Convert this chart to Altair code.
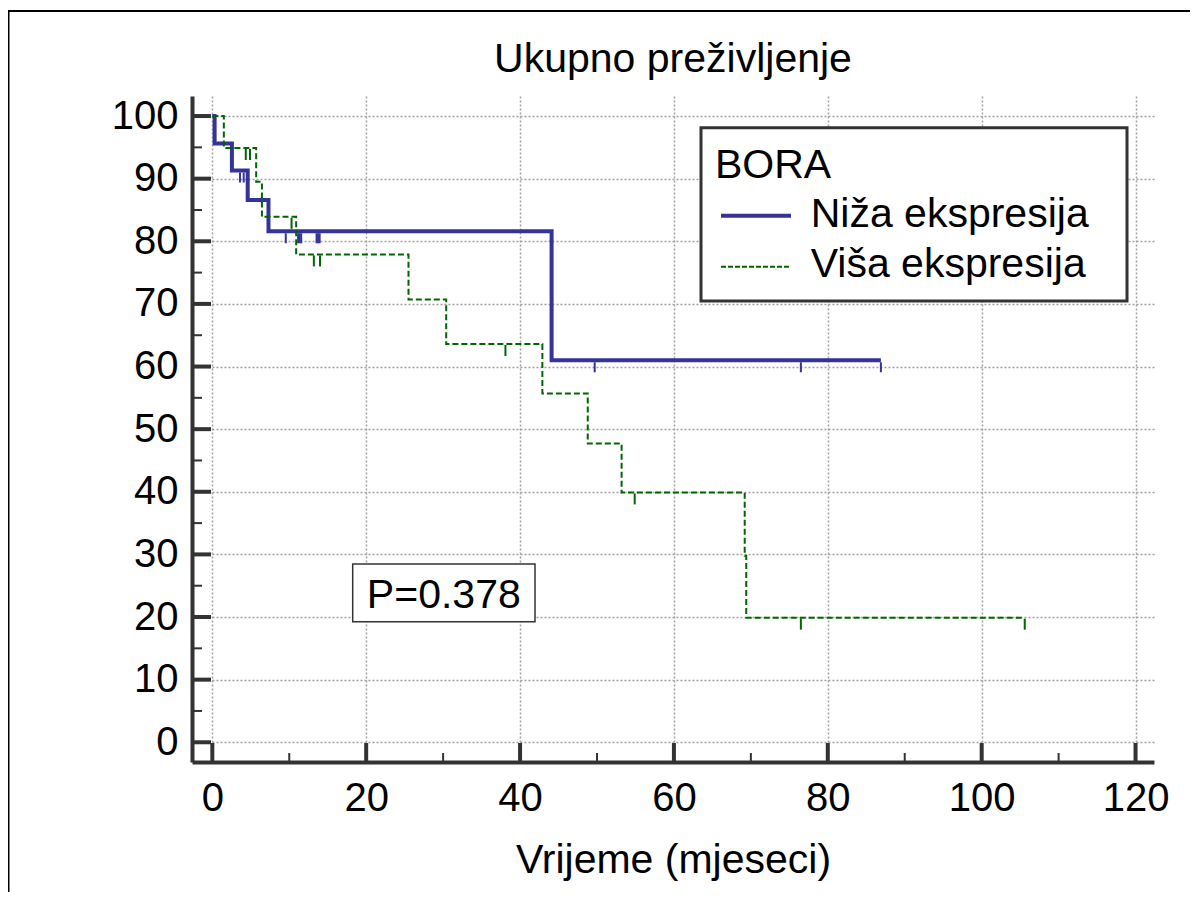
import altair as alt
import pandas as pd

# ---------------- data ----------------
title_text = "Ukupno preživljenje"
x_title = "Vrijeme (mjeseci)"
legend_title = "BORA"
series_names = ["Niža ekspresija", "Viša ekspresija"]
p_text = "P=0.378"

x_ticks = [0, 20, 40, 60, 80, 100, 120]
x_minor = [10, 30, 50, 70, 90, 110]
y_ticks = [0, 10, 20, 30, 40, 50, 60, 70, 80, 90, 100]
y_minor = [5, 15, 25, 35, 45, 55, 65, 75, 85, 95]

# Niža ekspresija (step curve + censored marks)
low_t = [0, 0.3, 2.55, 4.6, 7.3, 44.1, 86.9]
low_s = [100, 95.6, 91.3, 86.6, 81.6, 61.0, 61.0]
low_cens_t = [3.6, 4.08, 9.55, 11.15, 11.35, 11.55, 13.55, 13.75, 13.95, 49.7, 76.5, 86.9]
low_cens_s = [91.3, 91.3, 81.6, 81.6, 81.6, 81.6, 81.6, 81.6, 81.6, 61.0, 61.0, 61.0]

# Viša ekspresija
high_t = [0, 1.5, 5.7, 6.45, 10.9, 25.5, 30.4, 42.9, 48.8, 53.2, 69.2, 69.4, 105.6]
high_s = [100, 94.9, 89.5, 83.9, 77.9, 70.7, 63.6, 55.7, 47.7, 39.9, 29.8, 19.9, 19.9]
high_cens_t = [4.35, 4.9, 10.3, 13.2, 14.0, 38.1, 54.9, 76.5, 105.6]
high_cens_s = [94.9, 94.9, 83.9, 77.9, 77.9, 63.6, 39.9, 19.9, 19.9]

# ---------------- styling ----------------
F = "Liberation Sans, Arial, Helvetica, sans-serif"
BLUE = "#333399"
GREEN = "#006600"
AX = "#333333"
W, H = 962, 666
FS = 41

df_low = pd.DataFrame({"t": low_t, "s": low_s})
df_high = pd.DataFrame({"t": high_t, "s": high_s})
df_low_c = pd.DataFrame({"t": low_cens_t, "s": low_cens_s})
df_high_c = pd.DataFrame({"t": high_cens_t, "s": high_cens_s})
df_xt = pd.DataFrame({"v": x_ticks})
df_xm = pd.DataFrame({"v": x_minor})
df_yt = pd.DataFrame({"v": y_ticks})
df_ym = pd.DataFrame({"v": y_minor})
one = pd.DataFrame({"a": [0]})

xs = alt.Scale(domain=[-2.64, 122.4], nice=False, zero=False)
ys = alt.Scale(domain=[-3.15, 103.2], nice=False, zero=False)

xaxis = alt.Axis(values=x_ticks, ticks=False, grid=True, gridDash=[2, 2],
                 gridColor="#a0a0a0", gridWidth=1.5, domainColor=AX, domainWidth=4,
                 labelFontSize=40, labelFont=F, labelColor="black", labelPadding=16,
                 labelFlush=False, labelOverlap=False,
                 title=x_title, titleFontSize=FS, titleFont=F, titleFontWeight="normal",
                 titleColor="black", titleY=110, titleBaseline="alphabetic")
yaxis = alt.Axis(values=y_ticks, ticks=False, grid=True, gridDash=[2, 2],
                 gridColor="#a0a0a0", gridWidth=1.5, domainColor=AX, domainWidth=4,
                 labelFontSize=40, labelFont=F, labelColor="black", labelPadding=14,
                 labelFlush=False, labelOverlap=False, title=None)


def X(f):
    return alt.X(f, type="quantitative", scale=xs, axis=xaxis)


def Y(f):
    return alt.Y(f, type="quantitative", scale=ys, axis=yaxis)


def label_layer(text, x, y, align="left", size=FS):
    return alt.Chart(pd.DataFrame({"label": [text]})).mark_text(
        align=align, baseline="alphabetic", fontSize=size, font=F, color="black"
    ).encode(text="label:N", x=alt.value(x), y=alt.value(y))


low_line = alt.Chart(df_low).mark_line(
    interpolate="step-after", color=BLUE, strokeWidth=4, strokeCap="butt", strokeJoin="miter"
).encode(x=X("t"), y=Y("s"))

high_line = alt.Chart(df_high).mark_line(
    interpolate="step-after", color=GREEN, strokeWidth=2, strokeDash=[6, 3],
    strokeCap="butt", strokeJoin="miter"
).encode(x=X("t"), y=Y("s"))

low_cens = alt.Chart(df_low_c).mark_rule(
    color=BLUE, strokeWidth=2, yOffset=2, y2Offset=12
).encode(x=X("t"), y=Y("s"), y2=alt.Y2("s"))

high_cens = alt.Chart(df_high_c).mark_rule(
    color=GREEN, strokeWidth=2, yOffset=1, y2Offset=12
).encode(x=X("t"), y=Y("s"), y2=alt.Y2("s"))

ytick_major = alt.Chart(df_yt).mark_rule(color=AX, strokeWidth=4).encode(
    y=Y("v"), x=alt.value(0), x2=alt.value(19))
ytick_minor = alt.Chart(df_ym).mark_rule(color=AX, strokeWidth=2).encode(
    y=Y("v"), x=alt.value(0), x2=alt.value(10))
xtick_major = alt.Chart(df_xt).mark_rule(color=AX, strokeWidth=4).encode(
    x=X("v"), y=alt.value(H), y2=alt.value(H - 19))
xtick_minor = alt.Chart(df_xm).mark_rule(color=AX, strokeWidth=2).encode(
    x=X("v"), y=alt.value(H), y2=alt.value(H - 9))

# figure frame (left and top edges)
frame_left = alt.Chart(one).mark_rule(color="black", strokeWidth=1.5).encode(
    x=alt.value(-183.25), y=alt.value(-86), y2=alt.value(820))
frame_top = alt.Chart(one).mark_rule(color="black", strokeWidth=2).encode(
    y=alt.value(-85), x=alt.value(-184), x2=alt.value(1010))

# chart title
title_mark = label_layer(title_text, W / 2, -24, align="center")

# legend
leg_box = alt.Chart(one).mark_rect(fill="white", stroke=AX, strokeWidth=3).encode(
    x=alt.value(509), x2=alt.value(935), y=alt.value(31.7), y2=alt.value(205))
leg_title = label_layer(legend_title, 523, 82)
leg_lab1 = label_layer(series_names[0], 618.7, 130.7)
leg_lab2 = label_layer(series_names[1], 618.7, 180.7)
leg_sym1 = alt.Chart(one).mark_rule(color=BLUE, strokeWidth=4).encode(
    x=alt.value(529), x2=alt.value(599), y=alt.value(119.7))
leg_sym2 = alt.Chart(one).mark_rule(color=GREEN, strokeWidth=2, strokeDash=[5, 2]).encode(
    x=alt.value(529), x2=alt.value(599), y=alt.value(170.7))

# p-value box
p_box = alt.Chart(one).mark_rect(fill="white", stroke=AX, strokeWidth=1.5).encode(
    x=alt.value(160.7), x2=alt.value(343), y=alt.value(468), y2=alt.value(525.7))
p_label = label_layer(p_text, 251.8, 512.3, align="center")

chart = alt.layer(
    low_line, high_line, low_cens, high_cens,
    ytick_major, ytick_minor, xtick_major, xtick_minor,
    frame_left, frame_top, title_mark,
    leg_box, leg_title, leg_lab1, leg_lab2, leg_sym1, leg_sym2,
    p_box, p_label,
).properties(
    width=W, height=H,
    autosize=alt.AutoSizeParams(type="none"),
    padding={"left": 184, "top": 88, "right": 36, "bottom": 130},
    background="white",
).configure_view(stroke=None)

chart.save("out.html", embed_options={"renderer": "svg", "actions": False})
